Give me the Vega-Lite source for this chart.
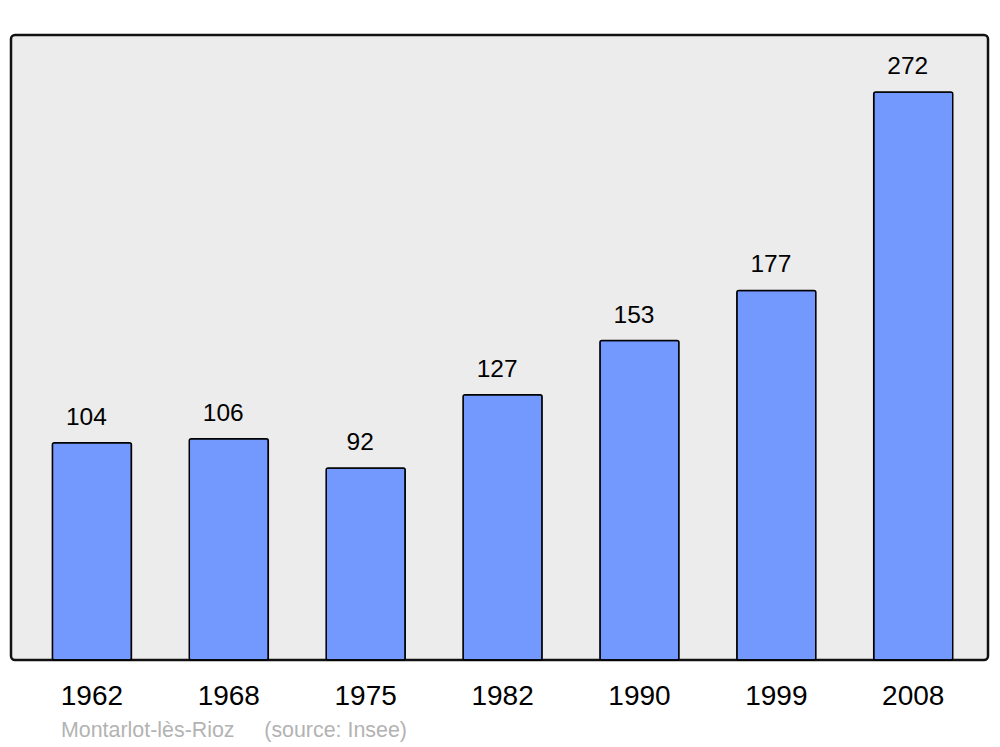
{
  "$schema": "https://vega.github.io/schema/vega-lite/v6.json",
  "autosize": {"type": "none"},
  "padding": {"left": 11, "top": 35, "right": 12, "bottom": 87},
  "width": 977,
  "height": 625,
  "background": "white",
  "config": {
    "font": "Liberation Sans",
    "view": {"fill": "#ececec", "stroke": "#111111", "strokeWidth": 2.5, "cornerRadius": 4}
  },
  "title": {
    "text": "Montarlot-lès-Rioz\u00a0\u00a0\u00a0\u00a0\u00a0(source: Insee)",
    "orient": "bottom",
    "anchor": "start",
    "dx": 50,
    "offset": 10,
    "fontSize": 21.4,
    "fontWeight": "normal",
    "color": "#b3b3b3",
    "font": "Liberation Sans"
  },
  "data": {
    "values": [
      {"year": "1962", "pop": 104},
      {"year": "1968", "pop": 106},
      {"year": "1975", "pop": 92},
      {"year": "1982", "pop": 127},
      {"year": "1990", "pop": 153},
      {"year": "1999", "pop": 177},
      {"year": "2008", "pop": 272}
    ]
  },
  "encoding": {
    "x": {
      "field": "year",
      "type": "nominal",
      "sort": null,
      "scale": {"paddingInner": 0.4226, "paddingOuter": 0.28, "align": 0.54},
      "axis": {
        "title": null,
        "labelAngle": 0,
        "labelFontSize": 28,
        "labelColor": "black",
        "labelPadding": 22,
        "ticks": false,
        "domain": false
      }
    },
    "y": {
      "field": "pop",
      "type": "quantitative",
      "scale": {"domain": [0, 299.3], "nice": false},
      "axis": null
    }
  },
  "layer": [
    {
      "mark": {"type": "bar", "fill": "#7399ff", "stroke": "black", "strokeWidth": 1.5, "cornerRadius": 2}
    },
    {
      "mark": {"type": "text", "baseline": "alphabetic", "dy": -18, "dx": -5.5, "fontSize": 24.5, "color": "black"},
      "encoding": {"text": {"field": "pop", "type": "quantitative"}}
    }
  ]
}
